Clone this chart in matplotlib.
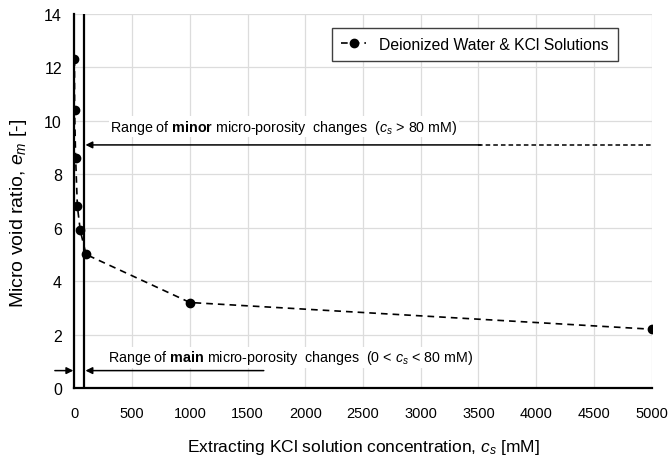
import matplotlib.pyplot as plt

# KCl concentration [mM] and micro void ratio e_m [-]
conc = [0, 1, 10, 25, 50, 100, 1000, 5000]
void_ratio = [12.3, 10.4, 8.6, 6.8, 5.9, 5.0, 3.2, 2.2]

x_ticks = list(range(0, 5001, 500))
y_ticks = list(range(0, 15, 2))
threshold = 80

plt.rcParams['font.family'] = ['Liberation Sans', 'DejaVu Sans']
plt.rcParams['mathtext.fontset'] = 'custom'
plt.rcParams['mathtext.rm'] = 'Liberation Sans'
plt.rcParams['mathtext.it'] = 'Liberation Sans:italic'
plt.rcParams['mathtext.bf'] = 'Liberation Sans:bold'

fig = plt.figure(figsize=(6.68, 4.56), dpi=100)
ax = fig.add_axes([0.1115, 0.147, 0.864, 0.82])

ax.plot(conc, void_ratio, linestyle=(0, (4, 3)), color='black', lw=1.2,
        marker='o', markersize=6, label='Deionized Water & KCl Solutions', zorder=5)

ax.set_xlim(0, 5000)
ax.set_ylim(0, 14)
ax.set_xticks(x_ticks)
ax.set_yticks(y_ticks)
ax.grid(True, color='#dcdcdc', lw=0.9)
ax.set_axisbelow(True)
for s in ['top', 'right']:
    ax.spines[s].set_visible(False)
for s in ['left', 'bottom']:
    ax.spines[s].set_linewidth(1.6)
ax.tick_params(length=0, labelsize=10.5)
ax.tick_params(axis='x', pad=13)
ax.tick_params(axis='y', pad=9, labelsize=11.5)

# threshold line at 80 mM
ax.axvline(threshold, color='black', lw=1.6, zorder=4)

# minor range arrow (solid part + dashed continuation)
ax.plot([3500, 5000], [9.1, 9.1], color='black', lw=1.1, linestyle=(0, (3, 2)))
ax.annotate('', xy=(threshold + 15, 9.1), xytext=(3520, 9.1),
            arrowprops=dict(arrowstyle='-|>', color='black', lw=1.1,
                            mutation_scale=10, shrinkA=0, shrinkB=0))
ax.text(310, 9.45, r'Range of $\mathbf{minor}$ micro-porosity  changes  ($c_s$ > 80 mM)',
        fontsize=10.3, va='bottom', ha='left',
        bbox=dict(facecolor='white', edgecolor='none', pad=1))

# main range arrows
ax.annotate('', xy=(threshold + 15, 0.65), xytext=(1640, 0.65),
            arrowprops=dict(arrowstyle='-|>', color='black', lw=1.1,
                            mutation_scale=10, shrinkA=0, shrinkB=0))
ax.annotate('', xy=(-10, 0.65), xytext=(-170, 0.65), annotation_clip=False,
            arrowprops=dict(arrowstyle='-|>', color='black', lw=1.1,
                            mutation_scale=10, shrinkA=0, shrinkB=0))
ax.text(290, 1.15, r'Range of $\mathbf{main}$ micro-porosity  changes  (0 < $c_s$ < 80 mM)',
        fontsize=10.3, va='center', ha='left',
        bbox=dict(facecolor='white', edgecolor='none', pad=1))

ax.set_xlabel('Extracting KCl solution concentration, $c_s$ [mM]', fontsize=12.5, labelpad=12)
ax.set_ylabel('Micro void ratio, $e_m$ [-]', fontsize=14)
ax.yaxis.set_label_coords(-0.078, 0.47)

leg = ax.legend(loc='upper right', bbox_to_anchor=(0.955, 0.985),
                fancybox=False, edgecolor='#404040', framealpha=1,
                handlelength=1.6, borderpad=0.6, prop={'size': 11.3})
leg.get_frame().set_linewidth(1.0)

fig.savefig('out.png', dpi=100)
